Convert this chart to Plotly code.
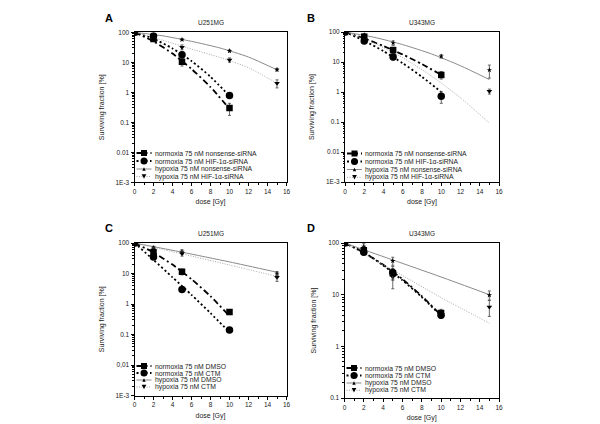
import plotly.graph_objects as go

# ---------------- data ----------------
# Panel A - U251MG, siRNA
A_dose_norm = [0, 2, 5, 10]
A_dose_hyp = [0, 2, 5, 10, 15]
A_norm_nonsense = [100, 60, 10.5, 0.30]
A_norm_nonsense_err = [0, 8, 3, 0.13]
A_norm_hif = [100, 75, 18, 0.78]
A_norm_hif_err = [0, 8, 4, 0.15]
A_hyp_nonsense = [100, 82, 57, 24, 5.7]
A_hyp_nonsense_err = [0, 5, 4, 2, 0.6]
A_hyp_hif = [100, 72, 32, 12, 2.0]
A_hyp_hif_err = [0, 6, 6, 2, 0.6]
A_fit_dose_norm = [0, 2, 4, 6, 8, 10]
A_fit_norm_nonsense = [100, 50, 19.5, 6.0, 1.5, 0.28]
A_fit_norm_hif = [100, 61, 29, 11, 3.3, 0.75]
A_fit_dose_hyp = [0, 3, 6, 9, 12, 15]
A_fit_hyp_nonsense = [100, 76, 50, 30, 15, 5.6]
A_fit_hyp_hif = [100, 54, 27.5, 14.5, 6.6, 2.0]

# Panel B - U343MG, siRNA
B_dose_norm = [0, 2, 5, 10]
B_dose_hyp = [0, 2, 5, 10, 15]
B_norm_nonsense = [100, 70, 25, 3.7]
B_norm_nonsense_err = [0, 10, 5, 1.0]
B_norm_hif = [100, 50, 14.6, 0.72]
B_norm_hif_err = [0, 8, 3, 0.3]
B_hyp_nonsense = [100, 80, 43, 15.5, 5.4]
B_hyp_nonsense_err = [0, 8, 8, 2, 2.5]
B_hyp_hif = [100, 60, 17, 3.9, 1.05]
B_hyp_hif_err = [0, 8, 4, 0.8, 0.2]
B_fit_dose_norm = [0, 2, 4, 6, 8, 10]
B_fit_norm_nonsense = [100, 61, 34, 17.8, 8.5, 3.7]
B_fit_norm_hif = [100, 51, 23, 9.1, 3.2, 1.0]
B_fit_dose_hyp = [0, 3, 6, 9, 12, 15]
B_fit_hyp_nonsense = [100, 67, 38, 18.5, 7.5, 2.6]
B_fit_hyp_hif = [100, 43, 13.9, 3.4, 0.64, 0.092]

# Panel C - U251MG, CTM
C_dose_norm = [0, 2, 5, 10]
C_dose_hyp = [0, 2, 5, 15]
C_norm_dmso = [100, 50, 11.5, 0.55]
C_norm_dmso_err = [0, 10, 2.5, 0.1]
C_norm_ctm = [100, 35, 3.0, 0.14]
C_norm_ctm_err = [0, 5, 0.4, 0.02]
C_hyp_dmso = [100, 70, 52, 10]
C_hyp_dmso_err = [0, 8, 8, 1.5]
C_hyp_ctm = [100, 60, 45, 7.5]
C_hyp_ctm_err = [0, 10, 8, 2]
C_fit_dose_norm = [0, 2, 4, 6, 8, 10]
C_fit_norm_dmso = [100, 49, 19.6, 6.5, 1.8, 0.4]
C_fit_norm_ctm = [100, 28, 7.5, 2.0, 0.5, 0.12]
C_fit_dose_hyp = [0, 5, 10, 15]
C_fit_hyp_dmso = [100, 50, 24, 11]
C_fit_hyp_ctm = [100, 44, 19, 8]

# Panel D - U343MG, CTM
D_dose_norm = [0, 2, 5, 10]
D_dose_hyp = [0, 2, 5, 15]
D_norm_dmso = [100, 72, 26, 4.4]
D_norm_dmso_err = [0, 10, 6, 0.8]
D_norm_ctm = [100, 66, 27, 4.0]
D_norm_ctm_err = [0, 8, 8, 0.5]
D_hyp_dmso = [100, 85, 45, 9.8]
D_hyp_dmso_err = [0, 12, 8, 2]
D_hyp_ctm = [100, 75, 22, 5.8]
D_hyp_ctm_err = [0, 8, 9, 2]
D_fit_dose_norm = [0, 2, 4, 6, 8, 10]
D_fit_norm_dmso = [100, 65, 38, 20, 9.4, 4.0]
D_fit_norm_ctm = [100, 66, 37, 19, 9.0, 3.9]
D_fit_dose_hyp = [0, 5, 10, 15]
D_fit_hyp_dmso = [100, 47, 22, 10]
D_fit_hyp_ctm = [100, 30, 8.8, 2.8]

titles = ["U251MG", "U343MG", "U251MG", "U343MG"]
letters = ["A", "B", "C", "D"]
names_sirna = ["normoxia 75 nM nonsense-siRNA", "normoxia 75 nM HIF-1\u03b1-siRNA",
               "hypoxia 75 nM nonsense-siRNA", "hypoxia 75 nM HIF-1\u03b1-siRNA"]
names_ctm = ["normoxia 75 nM DMSO", "normoxia 75 nM CTM",
             "hypoxia 75 nM DMSO", "hypoxia 75 nM CTM"]

# ---------------- styling ----------------
W, H = 600, 424
FONT = "Liberation Sans, Arial, sans-serif"
TXT = "#222"


def px(x):
    return x / W


def py(y):
    return 1 - y / H


LINES = [dict(color="#000", width=1.8, dash="6px,3px,2px,3px"),
         dict(color="#000", width=1.8, dash="2px,2.5px"),
         dict(color="#8a8a8a", width=1),
         dict(color="#a5a5a5", width=1, dash="1px,1.5px")]
MARKERS = [dict(symbol="square", size=6.5, color="#000"),
           dict(symbol="circle", size=7.5, color="#000"),
           dict(symbol="star", size=4, color="#000"),
           dict(symbol="triangle-down", size=5, color="#000")]

# panel frames in pixels: (left, right, top, bottom)
frames = [(126.5, 278.5, 24.3, 174.3),
          (337, 491, 24, 174),
          (126.5, 278.5, 235, 387.5),
          (336.5, 491, 235, 390)]

fig = go.Figure()

panels = [
    (A_dose_norm, A_dose_hyp, [A_norm_nonsense, A_norm_hif, A_hyp_nonsense, A_hyp_hif],
     [A_norm_nonsense_err, A_norm_hif_err, A_hyp_nonsense_err, A_hyp_hif_err],
     A_fit_dose_norm, A_fit_dose_hyp, [A_fit_norm_nonsense, A_fit_norm_hif, A_fit_hyp_nonsense, A_fit_hyp_hif]),
    (B_dose_norm, B_dose_hyp, [B_norm_nonsense, B_norm_hif, B_hyp_nonsense, B_hyp_hif],
     [B_norm_nonsense_err, B_norm_hif_err, B_hyp_nonsense_err, B_hyp_hif_err],
     B_fit_dose_norm, B_fit_dose_hyp, [B_fit_norm_nonsense, B_fit_norm_hif, B_fit_hyp_nonsense, B_fit_hyp_hif]),
    (C_dose_norm, C_dose_hyp, [C_norm_dmso, C_norm_ctm, C_hyp_dmso, C_hyp_ctm],
     [C_norm_dmso_err, C_norm_ctm_err, C_hyp_dmso_err, C_hyp_ctm_err],
     C_fit_dose_norm, C_fit_dose_hyp, [C_fit_norm_dmso, C_fit_norm_ctm, C_fit_hyp_dmso, C_fit_hyp_ctm]),
    (D_dose_norm, D_dose_hyp, [D_norm_dmso, D_norm_ctm, D_hyp_dmso, D_hyp_ctm],
     [D_norm_dmso_err, D_norm_ctm_err, D_hyp_dmso_err, D_hyp_ctm_err],
     D_fit_dose_norm, D_fit_dose_hyp, [D_fit_norm_dmso, D_fit_norm_ctm, D_fit_hyp_dmso, D_fit_hyp_ctm]),
]

for i, (dn, dh, vals, errs, fdn, fdh, fits) in enumerate(panels):
    xa = "x" if i == 0 else f"x{i + 1}"
    ya = "y" if i == 0 else f"y{i + 1}"
    for k in range(4):
        fd = fdn if k < 2 else fdh
        fig.add_trace(go.Scatter(x=fd, y=fits[k], mode="lines", line=dict(shape="spline", smoothing=0.6, **LINES[k]),
                                 xaxis=xa, yaxis=ya, showlegend=False, hoverinfo="skip"))
    for k in [2, 3, 0, 1]:
        d = dn if k < 2 else dh
        fig.add_trace(go.Scatter(x=d, y=vals[k], mode="markers", marker=MARKERS[k],
                                 error_y=dict(type="data", array=errs[k], color="#444", thickness=0.8, width=1.5),
                                 xaxis=xa, yaxis=ya, showlegend=False))

layout = dict(width=W, height=H, margin=dict(l=0, r=0, t=0, b=0), paper_bgcolor="white", plot_bgcolor="white",
              font=dict(family=FONT, size=6.5, color=TXT), showlegend=False)

for i, (l, r, t, b) in enumerate(frames):
    sfx = "" if i == 0 else str(i + 1)
    xa_name = "x" + sfx
    ya_name = "y" + sfx
    layout["xaxis" + sfx] = dict(domain=[px(l), px(r)], anchor=ya_name, range=[0, 16],
                                 tickvals=list(range(0, 17, 2)), ticks="outside", ticklen=3, tickwidth=0.8,
                                 tickcolor="#000", showline=True, linecolor="#000", linewidth=1, mirror=True,
                                 showgrid=False, zeroline=False, tickfont=dict(size=6.5, color=TXT),
                                 minor=dict(ticks="outside", ticklen=2, tickvals=list(range(1, 16, 2)),
                                            tickcolor="#000", tickwidth=0.8),
                                 title=dict(text="dose [Gy]", font=dict(size=7, color=TXT), standoff=5),
                                 automargin=False)
    if i == 3:
        yv = [0.1, 1, 10, 100]
        yt = ["0.1", "1", "10", "100"]
        yr = [-1, 2]
        minor_vals = [m * 10 ** e for e in range(-1, 2) for m in range(2, 10)]
    else:
        yv = [0.001, 0.01, 0.1, 1, 10, 100]
        yt = ["1E-3", "0,01" if i == 2 else "0.01", "0.1", "1", "10", "100"]
        yr = [-3, 2]
        minor_vals = [m * 10 ** e for e in range(-3, 2) for m in range(2, 10)]
    layout["yaxis" + sfx] = dict(domain=[py(b), py(t)], anchor=xa_name, type="log", range=yr,
                                 tickvals=yv, ticktext=yt, ticks="outside", ticklen=3, tickwidth=0.8,
                                 tickcolor="#000", showline=True, linecolor="#000", linewidth=1, mirror=True,
                                 showgrid=False, zeroline=False, tickfont=dict(size=6.5, color=TXT),
                                 minor=dict(ticks="outside", ticklen=1.5, tickvals=minor_vals,
                                            tickcolor="#000", tickwidth=0.6),
                                 title=dict(text="Surviving fraction [%]", font=dict(size=7, color=TXT), standoff=10),
                                 automargin=False)

annotations = []
shapes = []
for i, (l, r, t, b) in enumerate(frames):
    annotations.append(dict(text=titles[i], x=px((l + r) / 2), y=py(t - 10), xref="paper", yref="paper",
                            showarrow=False, font=dict(size=6.5, color=TXT), xanchor="center", yanchor="middle"))
    lx = 95 if i in (0, 2) else 297
    ly = 10 if i < 2 else 220
    annotations.append(dict(text="<b>%s</b>" % letters[i], x=px(lx), y=py(ly), xref="paper", yref="paper",
                            showarrow=False, font=dict(size=11, color="#000"), xanchor="left", yanchor="middle"))

# custom in-plot legends
legend_rows = [[145, 153, 161, 168.5], [145.5, 153.5, 161.5, 169.3], [358, 365, 372, 379], [360, 367.5, 375, 382.3]]
for i, (l, r, t, b) in enumerate(frames):
    names = names_sirna if i < 2 else names_ctm
    for k, yy in enumerate(legend_rows[i]):
        x0, x1 = l + 2, l + 17
        cx = l + 9.5
        ln = LINES[k]
        shapes.append(dict(type="line", xref="paper", yref="paper", x0=px(x0), x1=px(x1), y0=py(yy), y1=py(yy),
                           line=dict(color=ln["color"], width=ln["width"], dash=ln.get("dash", "solid"))))
        if k == 0:
            s = 3
            shapes.append(dict(type="rect", xref="paper", yref="paper", x0=px(cx - s), x1=px(cx + s),
                               y0=py(yy + s), y1=py(yy - s), fillcolor="#000", line=dict(width=0)))
        elif k == 1:
            s = 3.5
            shapes.append(dict(type="circle", xref="paper", yref="paper", x0=px(cx - s), x1=px(cx + s),
                               y0=py(yy + s), y1=py(yy - s), fillcolor="#000", line=dict(width=0)))
        elif k == 2:
            s = 1.7
            path = "M %f %f L %f %f L %f %f Z" % (px(cx - s), py(yy + s), px(cx + s), py(yy + s), px(cx), py(yy - s))
            shapes.append(dict(type="path", xref="paper", yref="paper", path=path, fillcolor="#000", line=dict(width=0)))
        else:
            s = 2.3
            path = "M %f %f L %f %f L %f %f Z" % (px(cx - s), py(yy - s), px(cx + s), py(yy - s), px(cx), py(yy + s))
            shapes.append(dict(type="path", xref="paper", yref="paper", path=path, fillcolor="#000", line=dict(width=0)))
        annotations.append(dict(text=names[k], x=px(l + 18), y=py(yy), xref="paper", yref="paper", showarrow=False,
                                font=dict(size=6.8, color=TXT), xanchor="left", yanchor="middle"))

layout["annotations"] = annotations
layout["shapes"] = shapes
fig.update_layout(**layout)
fig.write_html("out.html")
